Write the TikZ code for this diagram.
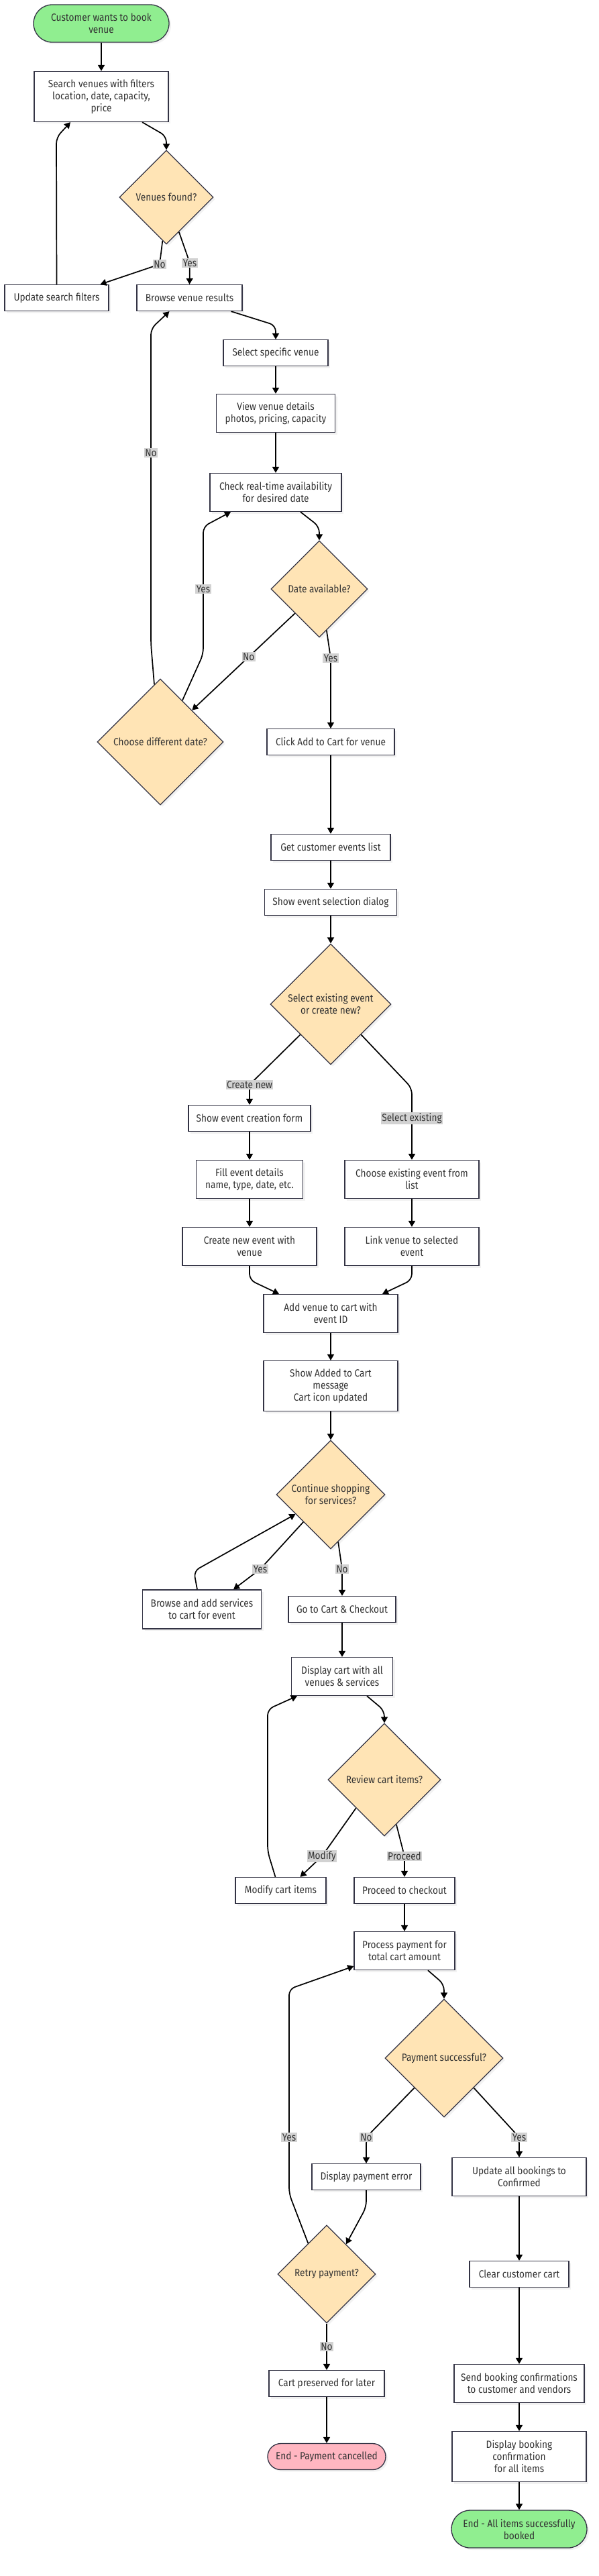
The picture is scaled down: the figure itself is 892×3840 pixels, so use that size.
\documentclass[tikz,border=0pt]{standalone}
\usepackage{fontspec}
\setmainfont{Fira Sans}[FakeStretch=0.88]
\usepackage{xcolor}
\usepackage{tikz}
\usetikzlibrary{arrows.meta,shapes.geometric,shapes.misc,shadows}

\definecolor{nodeline}{HTML}{333344}
\definecolor{textdark}{HTML}{333333}
\definecolor{startgreen}{HTML}{90EE90}
\definecolor{endpink}{HTML}{FFB6C1}
\definecolor{choicefill}{HTML}{FFE4B5}

\begin{document}
\begin{tikzpicture}[
    x=1pt, y=-1pt,
    font=\fontsize{15.5pt}{18pt}\selectfont,
    box/.style={
        draw=nodeline,
        fill=white,
        line width=1.3pt,
        minimum height=39pt,
        inner sep=2pt,
        align=center,
        text=textdark,
        drop shadow={shadow xshift=3pt, shadow yshift=-3pt, fill=black, opacity=0.05}
    },
    choice/.style={
        diamond,
        aspect=1,
        draw=nodeline,
        fill=choicefill,
        line width=1.3pt,
        inner sep=0pt,
        align=center,
        text=textdark,
        drop shadow={shadow xshift=3pt, shadow yshift=-3pt, fill=black, opacity=0.05}
    },
    term/.style={
        rounded rectangle,
        draw=nodeline,
        line width=1.3pt,
        inner sep=2pt,
        align=center,
        text=textdark,
        drop shadow={shadow xshift=3pt, shadow yshift=-3pt, fill=black, opacity=0.05}
    },
    lbl/.style={fill=gray!35, inner sep=1.5pt, sharp corners, text=textdark},
    arrow/.style={-{Triangle[length=9pt,width=10pt]}, line width=1.7pt, rounded corners=9pt}
]
\fill[white] (0,0) rectangle (892,3840);
\useasboundingbox (0,0) rectangle (892,3840);

% venue search
\node[term, fill=startgreen, minimum width=206pt, minimum height=56pt] (a) at (151,35) {Customer wants to book\\venue};
\node[box, minimum width=200pt, minimum height=75pt] (b) at (151,144) {Search venues with filters\\location, date, capacity,\\price};
\node[choice, minimum width=140pt, minimum height=140pt] (c) at (248,294) {Venues found?};
\node[box, minimum width=155pt] (d) at (84.5,444) {Update search filters};
\node[box, minimum width=157pt] (e) at (282.5,444) {Browse venue results};
\node[box, minimum width=156pt] (f) at (411,526) {Select specific venue};
\node[box, minimum width=177pt, minimum height=57pt] (g) at (411,616) {View venue details\\photos, pricing, capacity};
\node[box, minimum width=196pt, minimum height=57pt] (h) at (411,734) {Check real-time availability\\for desired date};
\node[choice, minimum width=144pt, minimum height=144pt] (i) at (476,878) {Date available?};
\node[choice, minimum width=188pt, minimum height=188pt] (j) at (239,1106) {Choose different date?};
\node[box, minimum width=190pt] (k) at (493,1106) {Click Add to Cart for venue};

% event selection
\node[box, minimum width=178pt] (l) at (493,1263) {Get customer events list};
\node[box, minimum width=197pt] (m) at (493,1345) {Show event selection dialog};
\node[choice, minimum width=180pt, minimum height=180pt] (n) at (493,1497) {Select existing event\\or create new?};
\node[box, minimum width=182pt] (o) at (372,1667) {Show event creation form};
\node[box, minimum width=159pt, minimum height=57pt] (p) at (372,1758) {Fill event details\\name, type, date, etc.};
\node[box, minimum width=200pt, minimum height=57pt] (q) at (372,1858) {Create new event with\\venue};
\node[box, minimum width=200pt, minimum height=57pt] (r) at (614,1758) {Choose existing event from\\list};
\node[box, minimum width=200pt, minimum height=57pt] (s) at (614,1858) {Link venue to selected\\event};
\node[box, minimum width=200pt, minimum height=57pt] (t) at (493,1958) {Add venue to cart with\\event ID};
\node[box, minimum width=200pt, minimum height=75pt] (u) at (493,2066) {Show Added to Cart\\message\\Cart icon updated};

% cart
\node[choice, minimum width=162pt, minimum height=162pt] (v) at (493,2228) {Continue shopping\\for services?};
\node[box, minimum width=177pt, minimum height=58pt] (w) at (301,2399) {Browse and add services\\to cart for event};
\node[box, minimum width=160pt] (x) at (510,2399) {Go to Cart \& Checkout};
\node[box, minimum width=151pt, minimum height=57pt] (y) at (510,2499) {Display cart with all\\venues \& services};
\node[choice, minimum width=168pt, minimum height=168pt] (z) at (573,2653) {Review cart items?};
\node[box, minimum width=135pt] (mc) at (418.5,2818) {Modify cart items};
\node[box, minimum width=150pt] (pc) at (603,2818) {Proceed to checkout};

% payment
\node[box, minimum width=150pt, minimum height=57pt] (pp) at (603,2908) {Process payment for\\total cart amount};
\node[choice, minimum width=176pt, minimum height=176pt] (ps) at (662,3068) {Payment successful?};
\node[box, minimum width=162pt] (pe) at (546,3245) {Display payment error};
\node[box, minimum width=200pt, minimum height=57pt] (ub) at (774,3245) {Update all bookings to\\Confirmed};
\node[choice, minimum width=146pt, minimum height=146pt] (rp) at (487,3390) {Retry payment?};
\node[box, minimum width=148pt] (cc) at (774,3390) {Clear customer cart};
\node[box, minimum width=172pt] (cp) at (487,3553) {Cart preserved for later};
\node[term, fill=endpink, minimum width=180pt, minimum height=39pt] (ec) at (487,3662) {End - Payment cancelled};
\node[box, minimum width=194pt, minimum height=57pt] (sb) at (774,3553) {Send booking confirmations\\to customer and vendors};
\node[box, minimum width=200pt, minimum height=75pt] (db) at (774,3662) {Display booking\\confirmation\\for all items};
\node[term, fill=startgreen, minimum width=206pt, minimum height=56pt] (eb) at (774,3770) {End - All items successfully\\booked};

% connectors
\draw[arrow] (a) -- (b);
\draw[arrow] ([xshift=61pt]b.south) -- (248,203) -- (c.north);
\draw[arrow] (c.-95) -- (238,394) node[lbl]{No} -- ([xshift=65pt]d.north);
\draw[arrow] (c.-70) -- (283,392) node[lbl]{Yes} -- (e.north);
\draw[arrow] (d.north) -- (84,205) -- ([xshift=-46pt]b.south);
\draw[arrow] ([xshift=62pt]e.south) -- (411,485) -- (f.north);
\draw[arrow] (f) -- (g);
\draw[arrow] (g) -- (h);
\draw[arrow] ([xshift=37pt]h.south) -- (476,785) -- (i.north);
\draw[arrow] (i.south west) -- node[lbl, pos=0.45]{No} (j.north east);
\draw[arrow] (i.-80) -- (493,981) node[lbl]{Yes} -- (k.north);
\draw[arrow] (j.62) -- (303,975) -- (303,878) node[lbl]{Yes} -- (303,785) -- ([xshift=-67pt]h.south);
\draw[arrow] (j.96) -- (225,960) -- (225,675) node[lbl]{No} -- (225,490) -- ([xshift=-30pt]e.south);
\draw[arrow] (k) -- (l);
\draw[arrow] (l) -- (m);
\draw[arrow] (m) -- (n);
\draw[arrow] (n.south west) -- (372,1617) node[lbl]{Create new} -- (o.north);
\draw[arrow] (n.south east) -- (614,1622) -- (614,1667) node[lbl]{Select existing} -- (r.north);
\draw[arrow] (o) -- (p);
\draw[arrow] (p) -- (q);
\draw[arrow] (r) -- (s);
\draw[arrow] (q.south) -- (372,1908) -- ([xshift=-77pt]t.north);
\draw[arrow] (s.south) -- (614,1908) -- ([xshift=77pt]t.north);
\draw[arrow] (t) -- (u);
\draw[arrow] (u) -- (v);
\draw[arrow] (v.south west) -- (388,2339) node[lbl]{Yes} -- ([xshift=47pt]w.north);
\draw[arrow] ([xshift=-7pt]w.north) -- (289,2342) -- (v.-151);
\draw[arrow] (v.-81) -- (510,2339) node[lbl]{No} -- (x.north);
\draw[arrow] (x) -- (y);
\draw[arrow] ([xshift=37pt]y.south) -- (573,2550) -- (z.north);
\draw[arrow] (z.south west) -- (480,2767) node[lbl]{Modify} -- ([xshift=29pt]mc.north);
\draw[arrow] (z.-75) -- (603,2767) node[lbl]{Proceed} -- (pc.north);
\draw[arrow] ([xshift=-8pt]mc.north) -- (399,2760) -- (399,2548) -- ([xshift=-67pt]y.south);
\draw[arrow] (pc) -- (pp);
\draw[arrow] ([xshift=35pt]pp.south) -- (662,2958) -- (ps.north);
\draw[arrow] (ps.south west) -- (546,3186) node[lbl]{No} -- (pe.north);
\draw[arrow] (ps.south east) -- (774,3186) node[lbl]{Yes} -- (ub.north);
\draw[arrow] (pe.south) -- (546,3290) -- (rp.57);
\draw[arrow] (rp.121) -- (431,3270) -- (431,3186) node[lbl]{Yes} -- (431,2965) -- ([yshift=-23pt]pp.west);
\draw[arrow] (rp.south) -- node[lbl]{No} (cp.north);
\draw[arrow] (cp) -- (ec);
\draw[arrow] (ub) -- (cc);
\draw[arrow] (cc) -- (sb);
\draw[arrow] (sb) -- (db);
\draw[arrow] (db) -- (eb);
\end{tikzpicture}
\end{document}
